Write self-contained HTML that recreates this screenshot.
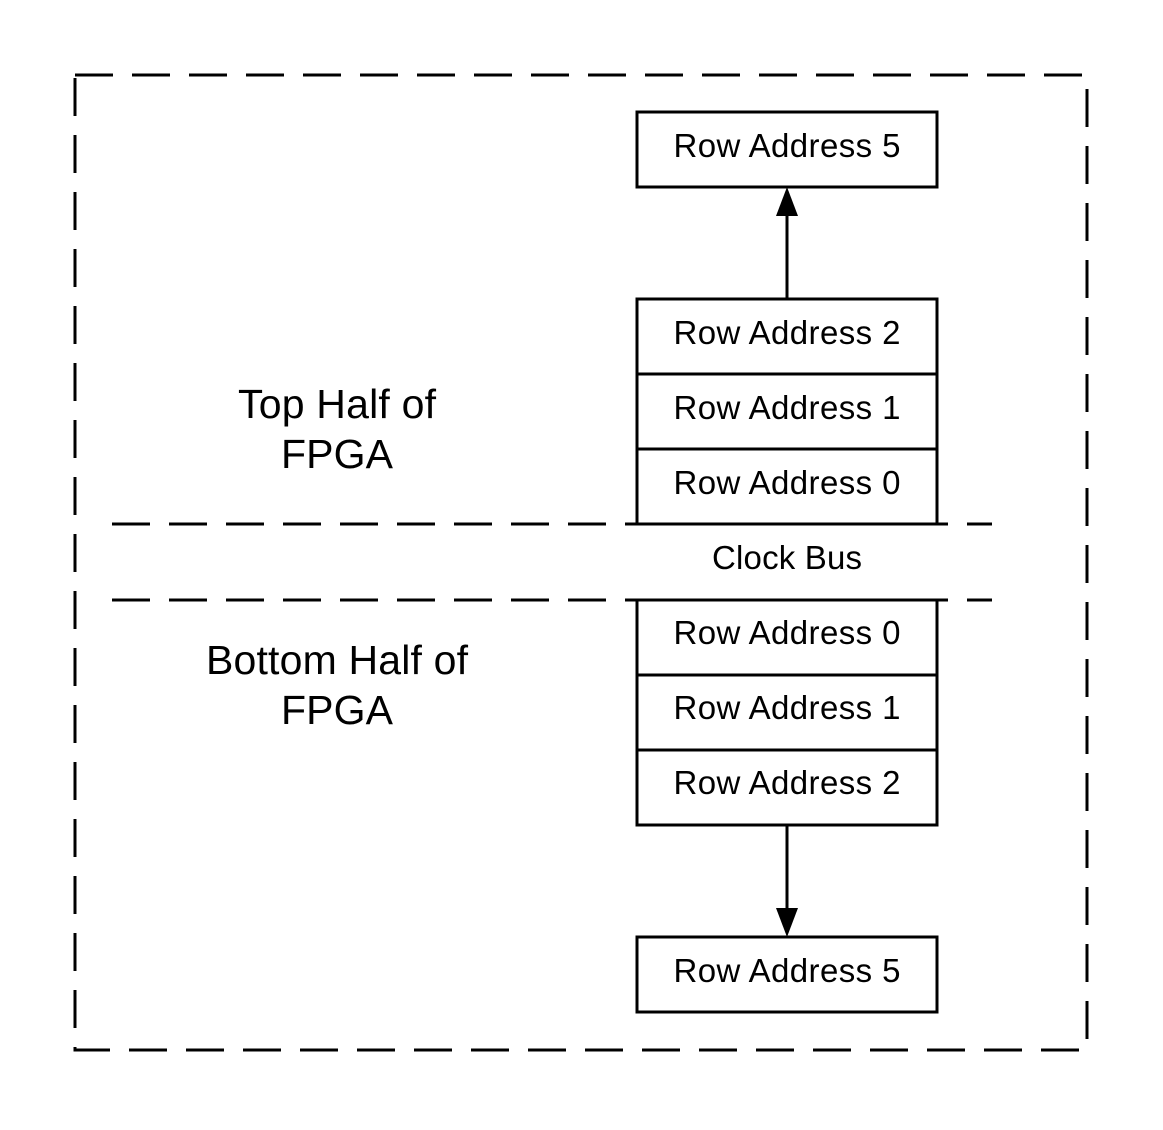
<!DOCTYPE html>
<html><head><style>
html,body{margin:0;padding:0;background:#fff;}
svg text{font-family:"Liberation Sans",Arial,sans-serif;fill:#000;}
</style></head><body>
<svg width="1163" height="1125" viewBox="0 0 1163 1125" xmlns="http://www.w3.org/2000/svg">
<rect x="75" y="75" width="1012" height="975" fill="none" stroke="#000" stroke-width="3" stroke-dasharray="38,19"/>
<line x1="112" y1="524" x2="992" y2="524" stroke="#000" stroke-width="3" stroke-dasharray="38,19"/>
<line x1="112" y1="600" x2="992" y2="600" stroke="#000" stroke-width="3" stroke-dasharray="38,19"/>
<g fill="#fff" stroke="#000" stroke-width="3">
<rect x="637" y="112" width="300" height="75"/>
<rect x="637" y="299" width="300" height="75"/>
<rect x="637" y="374" width="300" height="75"/>
<rect x="637" y="449" width="300" height="75"/>
<rect x="637" y="600" width="300" height="75"/>
<rect x="637" y="675" width="300" height="75"/>
<rect x="637" y="750" width="300" height="75"/>
<rect x="637" y="937" width="300" height="75"/>
</g>
<line x1="787" y1="299" x2="787" y2="212" stroke="#000" stroke-width="3"/>
<polygon points="787,187 776,216 798,216" fill="#000"/>
<line x1="787" y1="825" x2="787" y2="912" stroke="#000" stroke-width="3"/>
<polygon points="787,937 776,908 798,908" fill="#000"/>
<g font-size="33" text-anchor="middle">
<text x="787" y="157" textLength="227">Row Address 5</text>
<text x="787" y="344" textLength="227">Row Address 2</text>
<text x="787" y="419" textLength="227">Row Address 1</text>
<text x="787" y="494" textLength="227">Row Address 0</text>
<text x="787" y="569" textLength="150">Clock Bus</text>
<text x="787" y="644" textLength="227">Row Address 0</text>
<text x="787" y="719" textLength="227">Row Address 1</text>
<text x="787" y="794" textLength="227">Row Address 2</text>
<text x="787" y="982" textLength="227">Row Address 5</text>
</g>
<g font-size="41" text-anchor="middle">
<text x="337" y="418" textLength="198">Top Half of</text>
<text x="337" y="468" textLength="112">FPGA</text>
<text x="337" y="674" textLength="262">Bottom Half of</text>
<text x="337" y="724" textLength="112">FPGA</text>
</g>
</svg>
</body></html>
